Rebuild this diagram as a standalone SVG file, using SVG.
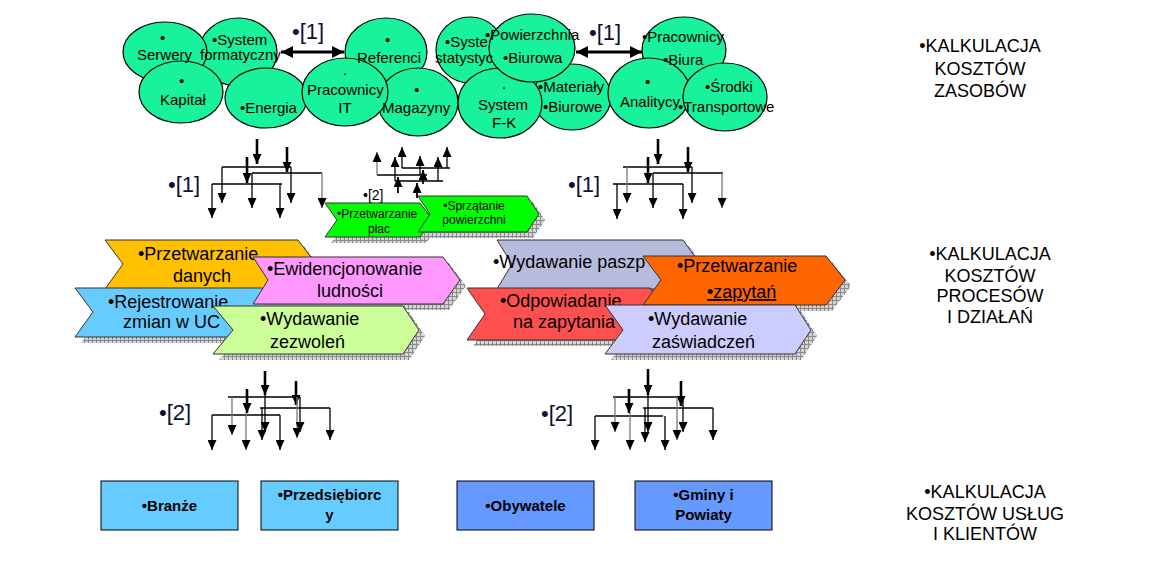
<svg xmlns="http://www.w3.org/2000/svg" width="1169" height="573" viewBox="0 0 1169 573">
<style>
text{font-family:"Liberation Sans",Arial,sans-serif;fill:#000}
.et{font-size:15px}
.ell{fill:#18F29A;stroke:#000;stroke-width:1.2}
.lab{font-size:22px;fill:#101030}
.thick{stroke:#000;stroke-width:2.6;fill:none;marker-end:url(#ah)}
.thin{stroke:#000;stroke-width:1.3;fill:none}
.arr{stroke:#000;stroke-width:1.3;fill:none;marker-end:url(#ah)}
.garr{stroke:#777;stroke-width:1.3;fill:none;marker-end:url(#ah)}
.dbl{stroke:#000;stroke-width:3;fill:none;marker-start:url(#dh);marker-end:url(#dh)}
.chev{stroke:#333;stroke-width:1}
.shadow{fill:url(#grid)}
.ct{font-size:18px}
.st{font-size:12px}
.box{stroke:#000;stroke-width:1}
.bt{font-size:15px;font-weight:bold}
.rt{font-size:18px;text-anchor:middle}
</style>
<defs>
<marker id="ah" viewBox="0 0 10 10" refX="10" refY="5" markerWidth="10" markerHeight="9" markerUnits="userSpaceOnUse" orient="auto" preserveAspectRatio="none"><path d="M0,0 L10,5 L0,10 z" fill="#000"/></marker>
<marker id="dh" viewBox="0 0 10 10" refX="10" refY="5" markerWidth="12" markerHeight="12" markerUnits="userSpaceOnUse" orient="auto-start-reverse" preserveAspectRatio="none"><path d="M0,0 L10,5 L0,10 z" fill="#000"/></marker>
<pattern id="grid" width="4" height="4" patternUnits="userSpaceOnUse"><rect width="4" height="4" fill="#d4d4d4"/><path d="M0 0.5H4M0.5 0V4" stroke="#8a8a8a" stroke-width="1"/></pattern>
</defs>
<rect width="1169" height="573" fill="#fff"/>

<!-- resource ellipses -->
<g id="ellipses">
<ellipse class="ell" cx="238" cy="52" rx="39" ry="34"/>
<ellipse class="ell" cx="165" cy="52" rx="42" ry="30"/>
<ellipse class="ell" cx="266" cy="98" rx="41" ry="30"/>
<ellipse class="ell" cx="181" cy="92" rx="42" ry="31"/>
<ellipse class="ell" cx="386" cy="52" rx="41" ry="34"/>
<ellipse class="ell" cx="418" cy="102" rx="40" ry="34"/>
<ellipse class="ell" cx="345" cy="92" rx="43" ry="34"/>
<ellipse class="ell" cx="470" cy="50" rx="34" ry="33"/>
<ellipse class="ell" cx="572" cy="97" rx="39" ry="33"/>
<ellipse class="ell" cx="500" cy="103" rx="42" ry="35"/>
<ellipse class="ell" cx="532" cy="48" rx="43" ry="34"/>
<ellipse class="ell" cx="684" cy="50" rx="42" ry="33"/>
<ellipse class="ell" cx="649" cy="93" rx="41" ry="35"/>
<ellipse class="ell" cx="725" cy="97" rx="42" ry="34"/>
</g>
<g id="ellipse-texts" class="et">
<text class="et" x="160" y="43">•</text><text class="et" x="137" y="60">Serwery</text>
<text class="et" x="212" y="45">•System</text><text class="et" x="200" y="60">formatyczny</text>
<text class="et" x="179" y="86">•</text><text class="et" x="160" y="105">Kapitał</text>
<text class="et" x="240" y="113">•Energia</text>
<text class="et" x="345" y="78" text-anchor="middle">·</text><text class="et" x="307" y="95">Pracownicy</text><text class="et" x="345" y="113" text-anchor="middle">IT</text>
<text class="et" x="385" y="45">•</text><text class="et" x="357" y="63">Referenci</text>
<text class="et" x="414" y="95">•</text><text class="et" x="382" y="113">Magazyny</text>
<text class="et" x="445" y="47">•Syste</text><text class="et" x="435" y="63">statystyc</text>
<text class="et" x="485" y="40">•Powierzchnia</text><text class="et" x="503" y="63">•Biurowa</text>
<text class="et" x="504" y="92" text-anchor="middle">·</text><text class="et" x="478" y="110">System</text><text class="et" x="492" y="128">F-K</text>
<text class="et" x="538" y="92">•Materiały</text><text class="et" x="543" y="112">•Biurowe</text>
<text class="et" x="642" y="42">•Pracownicy</text><text class="et" x="663" y="65">•Biura</text>
<text class="et" x="645" y="87">•</text><text class="et" x="620" y="107">Analitycy</text>
<text class="et" x="705" y="92">•Środki</text><text class="et" x="678" y="112">•Transportowe</text>
</g>

<!-- connectors -->
<g id="connectors">
<path class="dbl" d="M281 52H344"/>
<path class="dbl" d="M576 52H642"/>
<text class="lab" x="292" y="39">•[1]</text>
<text class="lab" x="589" y="40">•[1]</text>

<!-- tree [1] left -->
<text class="lab" x="168" y="192">•[1]</text>
<path class="thick" d="M257 139V164"/>
<path class="thick" d="M287 147V172"/>
<path class="thick" d="M247 157V183"/>
<path class="thin" d="M222 167H291M252 173H322M212 184H282"/>
<path class="arr" d="M222 167V203"/>
<path class="arr" d="M212 184V218"/>
<path class="arr" d="M252 173V208"/>
<path class="arr" d="M280 184V218"/>
<path class="arr" d="M291 167V203"/>
<path class="garr" d="M322 173V208"/>

<!-- tree [1] right -->
<text class="lab" x="568" y="192">•[1]</text>
<path class="thick" d="M658 139V164"/>
<path class="thick" d="M688 147V172"/>
<path class="thick" d="M648 157V183"/>
<path class="thin" d="M623 167H692M653 173H723M613 184H683"/>
<path class="garr" d="M627 167V203"/>
<path class="arr" d="M617 184V219"/>
<path class="arr" d="M653 173V208"/>
<path class="arr" d="M683 184V219"/>
<path class="arr" d="M692 167V203"/>
<path class="garr" d="M722 173V208"/>

<!-- up tree -->
<path class="thin" d="M402 168H450M377 175H427M395 181H443"/>
<path class="garr" d="M377 175V152"/>
<path class="arr" d="M395 181V157"/>
<path class="arr" d="M402 168V147"/>
<path class="arr" d="M420 175V156"/>
<path class="arr" d="M438 181V157"/>
<path class="arr" d="M447 168V147"/>
<path class="arr" style="stroke-width:1.8" d="M398 193V177"/>
<path class="arr" style="stroke-width:1.8" d="M423 184V170"/>
<path class="arr" style="stroke-width:1.8" d="M417 198V183"/>
<text x="363" y="200" style="font-size:14px">•[2]</text>

<!-- tree [2] left -->
<text class="lab" x="159" y="420">•[2]</text>
<path class="thick" d="M265 371V395"/>
<path class="thick" d="M296 381V405"/>
<path class="thick" d="M247 389V413"/>
<path class="thin" d="M228 397H300M260 408H330M212 415H280"/>
<path class="arr" d="M212 415V450"/>
<path class="garr" d="M232 397V435"/>
<path class="garr" d="M246 413V450"/>
<path class="arr" d="M262 408V440"/>
<path class="arr" d="M265 395V432"/>
<path class="arr" d="M280 415V450"/>
<path class="garr" d="M297 397V438"/>
<path class="arr" d="M300 397V432"/>
<path class="arr" d="M330 408V440"/>

<!-- tree [2] right -->
<text class="lab" x="541" y="421">•[2]</text>
<path class="thick" d="M648 369V395"/>
<path class="thick" d="M681 381V406"/>
<path class="thick" d="M629 389V413"/>
<path class="thin" d="M613 397H683M643 408H713M595 416H663"/>
<path class="arr" d="M595 416V450"/>
<path class="garr" d="M615 397V432"/>
<path class="garr" d="M630 413V450"/>
<path class="arr" d="M645 408V442"/>
<path class="arr" d="M648 395V432"/>
<path class="arr" d="M665 416V450"/>
<path class="garr" d="M677 397V440"/>
<path class="arr" d="M683 397V432"/>
<path class="arr" d="M713 408V440"/>
</g>

<!-- small green chevrons -->
<g id="chev-place">
<polygon class="shadow" points="331,209 426,209 439,226 426,243 331,243 343,226"/>
<polygon class="chev" fill="#00FF00" points="325,203 420,203 433,220 420,237 325,237 337,220"/>
<text class="st" x="337" y="218">•Przetwarzanie</text>
<text class="st" x="379" y="233" text-anchor="middle">płac</text>
</g>
<g id="chev-sprzatanie">
<polygon class="shadow" points="424,202 533,202 545,220 533,238 424,238 436,220"/>
<polygon class="chev" fill="#00FF00" points="418,196 527,196 539,214 527,232 418,232 430,214"/>
<text class="st" x="474" y="210" text-anchor="middle">•Sprzątanie</text>
<text class="st" x="474" y="224" text-anchor="middle">powierzchni</text>
</g>

<!-- process chevrons left -->
<g id="chev-przetwarzanie-danych">
<polygon class="shadow" points="111,246 304,246 322,270 304,295 111,295 129,270"/>
<polygon class="chev" fill="#FFC000" points="105,240 298,240 316,264 298,289 105,289 123,264"/>
<text class="ct" x="138" y="260">•Przetwarzanie</text>
<text class="ct" x="173" y="282">danych</text>
</g>
<g id="chev-rejestrowanie">
<polygon class="shadow" points="81,294 268,294 286,318 268,343 81,343 99,318"/>
<polygon class="chev" fill="#66CCFF" points="75,288 262,288 280,312 262,337 75,337 93,312"/>
<text class="ct" x="108" y="308">•Rejestrowanie</text>
<text class="ct" x="123" y="328">zmian w UC</text>
</g>
<g id="chev-ewidencjonowanie">
<polygon class="shadow" points="259,263 449,263 466,286 449,310 259,310 274,286"/>
<polygon class="chev" fill="#FF99FF" points="253,257 443,257 460,280 443,304 253,304 268,280"/>
<text class="ct" x="267" y="275">•Ewidencjonowanie</text>
<text class="ct" x="317" y="297">ludności</text>
</g>
<g id="chev-zezwolen">
<polygon class="shadow" points="219,312 409,312 425,336 409,360 219,360 239,336"/>
<polygon class="chev" fill="#CCFF99" points="213,306 403,306 419,330 403,354 213,354 233,330"/>
<text class="ct" x="260" y="325">•Wydawanie</text>
<text class="ct" x="270" y="348">zezwoleń</text>
</g>

<!-- process chevrons right -->
<g id="chev-paszport">
<polygon class="shadow" points="503,246 689,246 706,270 689,295 503,295 518,270"/>
<polygon class="chev" fill="#B8BCDC" points="497,240 683,240 700,264 683,289 497,289 512,264"/>
<text class="ct" x="493" y="268">•Wydawanie paszp</text>
</g>
<g id="chev-odpowiadanie">
<polygon class="shadow" points="473,294 656,294 674,320 656,346 473,346 491,320"/>
<polygon class="chev" fill="#FF5050" points="467,288 650,288 668,314 650,340 467,340 485,314"/>
<text class="ct" x="500" y="307">•Odpowiadanie</text>
<text class="ct" x="513" y="328">na zapytania</text>
</g>
<g id="chev-zapytan">
<polygon class="shadow" points="649,262 832,262 851,286 832,311 649,311 667,286"/>
<polygon class="chev" fill="#FF6600" points="643,256 826,256 845,280 826,305 643,305 661,280"/>
<text class="ct" x="677" y="272">•Przetwarzanie</text>
<text class="ct" x="707" y="298" text-decoration="underline">•zapytań</text>
</g>
<g id="chev-zaswiadczen">
<polygon class="shadow" points="611,311 801,311 817,336 801,360 611,360 629,336"/>
<polygon class="chev" fill="#CCCCFF" points="605,305 795,305 811,330 795,354 605,354 623,330"/>
<text class="ct" x="648" y="325">•Wydawanie</text>
<text class="ct" x="652" y="348">zaświadczeń</text>
</g>

<!-- client boxes -->
<g id="box-branze">
<rect class="box" x="101" y="481" width="137" height="49" fill="#66CCFF"/>
<text class="bt" x="169.5" y="511" text-anchor="middle">•Branże</text>
</g>
<g id="box-przedsiebiorcy">
<rect class="box" x="261" y="481" width="137" height="49" fill="#66CCFF"/>
<text class="bt" x="329.5" y="500" text-anchor="middle">•Przedsiębiorc</text>
<text class="bt" x="329.5" y="520" text-anchor="middle">y</text>
</g>
<g id="box-obywatele">
<rect class="box" x="457" y="481" width="137" height="49" fill="#6699FF"/>
<text class="bt" x="525.5" y="511" text-anchor="middle">•Obywatele</text>
</g>
<g id="box-gminy">
<rect class="box" x="635" y="481" width="137" height="49" fill="#6699FF"/>
<text class="bt" x="703.5" y="500" text-anchor="middle">•Gminy i</text>
<text class="bt" x="703.5" y="520" text-anchor="middle">Powiaty</text>
</g>

<!-- level labels -->
<g id="label-zasobow">
<text class="rt" x="980" y="52">•KALKULACJA</text>
<text class="rt" x="980" y="75">KOSZTÓW</text>
<text class="rt" x="980" y="97">ZASOBÓW</text>
</g>
<g id="label-procesow">
<text class="rt" x="990" y="260">•KALKULACJA</text>
<text class="rt" x="990" y="282">KOSZTÓW</text>
<text class="rt" x="990" y="302">PROCESÓW</text>
<text class="rt" x="990" y="323">I DZIAŁAŃ</text>
</g>
<g id="label-uslug">
<text class="rt" x="985" y="498">•KALKULACJA</text>
<text class="rt" x="985" y="520">KOSZTÓW USŁUG</text>
<text class="rt" x="985" y="540">I KLIENTÓW</text>
</g>
</svg>
